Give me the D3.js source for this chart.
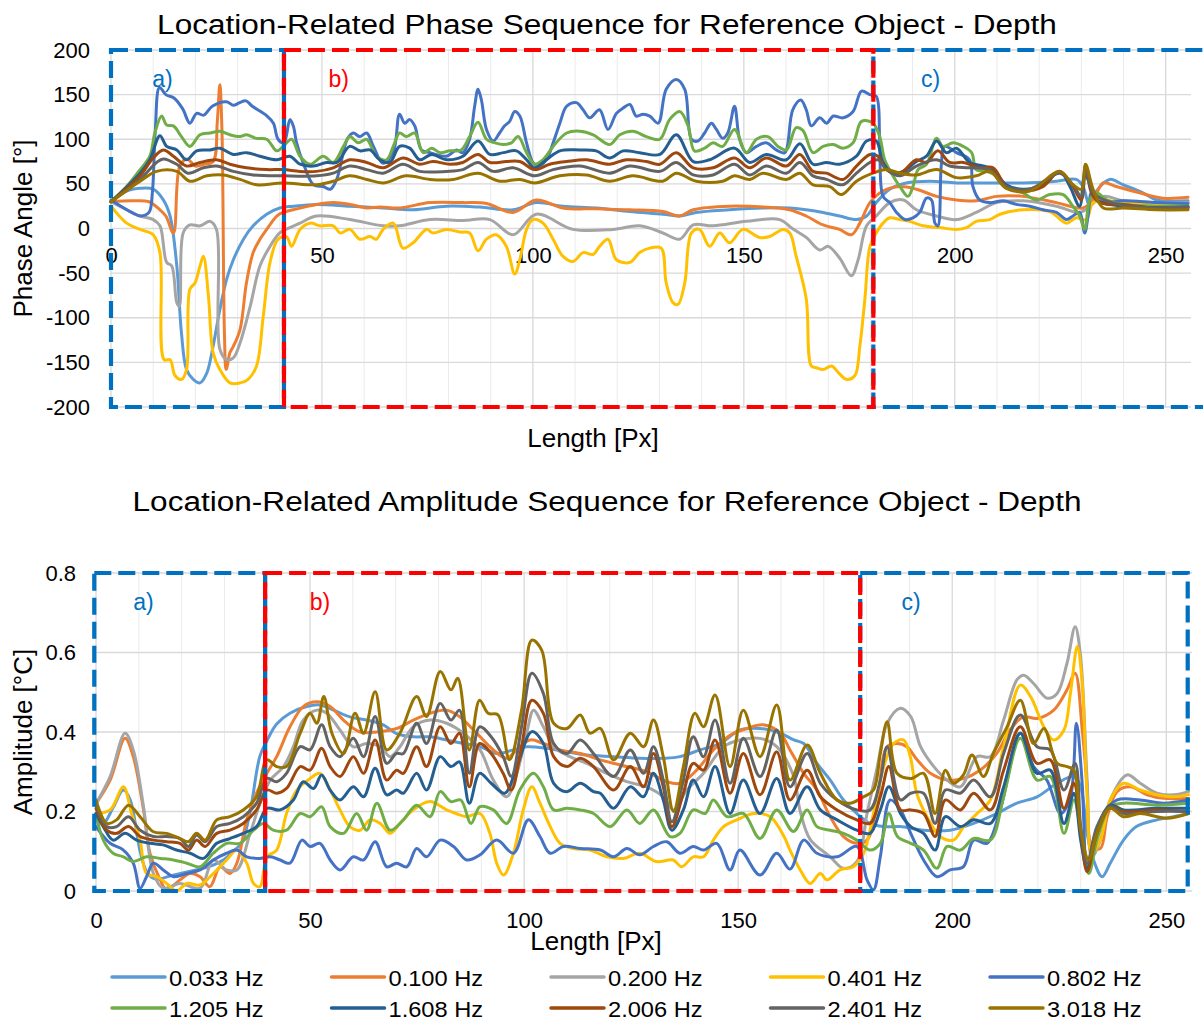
<!DOCTYPE html>
<html>
<head>
<meta charset="utf-8">
<script src="https://cdn.jsdelivr.net/npm/d3@7"></script>
<style>
  body { margin: 0; background: #fff; }
  svg { display: block; }
</style>
</head>
<body>
<svg id="chart" width="1203" height="1021"></svg>
<script>
// ---------- categories, ticks ----------
const frequencies = ["0.033 Hz", "0.100 Hz", "0.200 Hz", "0.401 Hz", "0.802 Hz",
                     "1.205 Hz", "1.608 Hz", "2.006 Hz", "2.401 Hz", "3.018 Hz"];
const seriesColors = ["#5B9BD5", "#ED7D31", "#A5A5A5", "#FFC000", "#4472C4",
                      "#70AD47", "#255E91", "#9E480E", "#636363", "#997300"];
const lengthTicks = [0, 50, 100, 150, 200, 250];
const lengthMinorTicks = d3.range(0, 251, 10);
const phaseTicks = [-200, -150, -100, -50, 0, 50, 100, 150, 200];
const ampTicks = [0, 0.2, 0.4, 0.6, 0.8];

// ---------- phase angle [°] per frequency, [length px, value] ----------
const ph033 = [[0,30],[3.7,42],[6.9,45],[10,44],[12.4,32],[14,14],[15.6,-42],[16.7,-117],[17.9,-158],[19.5,-169],[21.1,-173],[22.7,-162],[24.2,-132],[25.8,-91],[27.4,-57],[29,-35],[31.4,-12],[33.7,3],[36.9,16],[40,23],[43.2,25],[48.7,27],[56.6,25],[64.5,23],[71.6,21],[79.5,25],[87.4,24],[95.3,21],[100.8,29],[107.1,25],[115,23],[123,19],[130.8,16],[134.8,14],[138.7,18],[146.6,21],[154.5,23],[160.9,23],[164.8,21],[168.8,18],[172.7,14],[176.7,10],[179.1,14],[181.4,29],[184.6,44],[188.5,51],[194.1,53],[200.4,51],[208.3,51],[216.2,51],[224.1,53],[228.8,55],[230.4,47],[232,25],[233.6,42],[236.7,55],[239.9,49],[244.6,40],[247.8,32],[255.3,31]];
const ph100 = [[0,30],[5,31],[9,30],[11.6,21],[13,14],[14.8,-5],[16.3,70],[18,78],[20,70],[22,72],[24.2,75],[25.2,120],[25.8,161],[26.3,110],[26.9,-120],[27.3,-158],[28.2,-139],[29,-132],[30.6,-113],[32.1,-61],[33.7,-27],[35.3,-12],[36.9,-1],[39.3,14],[40.8,18],[43.2,21],[48.7,27],[52.7,29],[56.6,27],[60.6,23],[63.7,24],[68.4,23],[75.6,29],[83.4,29],[89,28],[95.3,18],[100.8,32],[107.1,23],[115,22],[123,21],[130.8,19],[134.8,14],[138,21],[146.6,25],[154.5,24],[160.8,21],[164.8,14],[168.8,4],[172.7,-1],[175.5,-7],[177.5,6],[179.9,29],[183,42],[187,47],[190.9,44],[195.7,36],[200.4,32],[205.1,31],[209.9,36],[216.2,36],[224.1,29],[230.4,23],[232.8,32],[235.2,51],[238.3,47],[243.8,40],[249.4,34],[255.3,35]];
const ph200 = [[0,30],[3.7,21],[6.9,14],[10,10],[11.6,3],[13.2,-38],[14.4,-42],[15.6,-83],[16.2,-87],[17.1,-5],[18.7,4],[21.1,3],[23.5,8],[25,-1],[25.8,-135],[27.4,-147],[29,-145],[30.6,-128],[33,-87],[35.3,-42],[37.7,-20],[40,-5],[42.4,1],[44.8,6],[48.7,14],[56.6,10],[64.5,3],[68.4,3],[75.6,10],[83.4,9],[89.8,10],[95.3,-7],[100.8,16],[109.5,-1],[119,-1],[125.3,3],[130.8,-5],[134.8,-12],[138,4],[142.7,3],[150.6,8],[158.5,10],[161.5,0],[164.8,-10],[168,-24],[170,-20],[172.7,-33],[175.5,-53],[177.1,-35],[179.1,3],[181.4,14],[184.6,29],[187.8,32],[190.9,21],[195.7,14],[200.4,10],[205.1,18],[209.9,29],[216.2,31],[224.1,25],[229.6,18],[232,25],[235.2,36],[239.9,31],[247.8,29],[255.3,29]];
const ph401 = [[0,25],[3.7,6],[6.9,-1],[10,-7],[11.6,-27],[12.6,-147],[14,-147],[15.2,-165],[16.7,-169],[17.9,-158],[18.7,-68],[19.9,-61],[21.1,-42],[21.9,-31],[23.1,-76],[24.2,-139],[25.8,-158],[28.2,-173],[30.6,-173],[32.5,-169],[34.5,-154],[36.1,-98],[37.7,-38],[39.6,-12],[41.6,-9],[42.8,-20],[44.8,-1],[47.2,6],[49.5,3],[52.7,3],[54.3,-5],[56.6,-1],[59,-12],[61.4,-9],[62.9,-12],[64.5,-1],[66.9,6],[69.2,-22],[71.6,-16],[74.8,-1],[76.3,-5],[79.5,-1],[82.7,-4],[85,-5],[87,-25],[89,-12],[91.3,-7],[93.7,-20],[95.7,-51],[96.9,-35],[98.5,-1],[100,10],[102.4,6],[104.8,-12],[107.1,-31],[109.5,-37],[111.9,-27],[114.3,-29],[115.8,-20],[117.8,-12],[119.8,-35],[123,-38],[125.3,-27],[127.7,-22],[130.4,-22],[131.6,-61],[133.2,-83],[134.4,-85],[136,-61],[137.6,-5],[139.5,-1],[141.9,-20],[144.3,-5],[146.6,-16],[149.8,-1],[153.7,-10],[156.1,-9],[159.3,-1],[160.9,-5],[162.4,-31],[164.8,-79],[166,-154],[167.2,-156],[168.8,-158],[170.8,-154],[172.7,-163],[174.3,-169],[176.3,-165],[177.5,-132],[178.7,-79],[179.9,-20],[181.4,-5],[183,6],[184.6,12],[187,10],[189.3,8],[192.5,3],[196.4,1],[200.4,-1],[202.8,1],[205.1,8],[208.3,10],[210.7,16],[216.2,21],[222.5,19],[226.5,6],[228.8,12],[231.2,10],[232.8,29],[236,31],[243.8,27],[255.3,28]];
const ph802 = [[0,32],[5.3,17],[7,14],[9,18],[9.8,40],[10.5,110],[11.5,158],[13,150],[15,146],[17,134],[18.7,118],[20.3,129],[22,127],[24,137],[27.4,142],[29,138],[30.5,141],[32,143],[33.5,137],[37,126],[38.5,118],[39.6,100],[41,96],[42.4,122],[43.2,115],[44,96],[45.6,73],[48,49],[50.3,47],[52,44],[53.5,55],[56,100],[57.4,107],[59,103],[60.6,107],[62.2,92],[64.5,73],[66.9,85],[68.4,128],[69.6,118],[70.8,122],[72,115],[73.6,88],[75.6,85],[79.5,81],[81.9,88],[83.4,85],[85,100],[86.2,137],[87,156],[87.8,144],[89,111],[90.6,98],[92.1,107],[93.3,115],[94.5,120],[95.7,131],[96.9,126],[98.5,96],[100,74],[101.2,70],[103.2,77],[104.8,96],[106.4,118],[108,137],[110.3,141],[111.9,133],[113.5,124],[115.8,133],[117.8,111],[119.8,129],[121.4,135],[123,139],[124.5,126],[126.1,128],[127.7,126],[129.7,118],[131.6,156],[134,167],[136,156],[137.6,100],[139.1,98],[140.7,107],[142.3,118],[143.5,111],[145,101],[146.2,107],[147.8,137],[149,100],[150.6,85],[153,92],[155.3,96],[157.7,88],[159.7,85],[161.6,133],[163.5,144],[164.8,133],[166,115],[168,124],[169.6,118],[171.2,126],[173.5,124],[175.9,131],[177.9,154],[179.9,150],[181.4,148],[182.2,100],[183,36],[184.6,29],[186.2,18],[188.2,10],[190.1,12],[191.7,18],[193.3,34],[194.5,32],[195.3,6],[196,3],[196.8,70],[197.6,92],[200.4,85],[203.5,77],[204.3,47],[205.9,32],[208.3,29],[211.5,31],[214.6,27],[217.8,25],[220.9,21],[224.1,18],[226.5,10],[228,14],[229.6,18],[230.8,-5],[231.6,14],[232.4,40],[233.6,32],[236,29],[239.9,31],[247.8,29],[255.3,28]];
const ph1205 = [[0,30],[3.7,47],[6.9,66],[9.2,81],[10.4,107],[12,126],[13.2,116],[14.8,115],[16.7,103],[18.7,92],[21.1,105],[23.5,107],[25.8,109],[28.2,105],[30.6,103],[32.1,105],[34.5,101],[36.9,100],[39.3,87],[40.8,92],[42.8,100],[44.8,81],[47.2,72],[50.3,81],[52.7,74],[55.1,92],[56.6,103],[58.6,96],[60.6,100],[62.9,81],[65.3,77],[66.9,92],[68.4,107],[70,103],[72,107],[74,85],[76,90],[78,85],[80.3,87],[83,88],[85,103],[87,119],[89,100],[91,96],[93,94],[94.9,96],[96.5,103],[98.5,85],[100.4,72],[102.4,77],[104.8,92],[108,107],[111.1,109],[114.3,105],[118.2,94],[120.6,105],[123.7,109],[126.9,103],[130.1,100],[132.4,122],[134.8,131],[136.8,115],[138.3,87],[140.7,90],[142.7,96],[145,92],[147.8,111],[150.6,85],[153,100],[155.7,103],[158.1,92],[160.1,88],[162.4,113],[164,110],[166.4,85],[168.8,92],[171.2,94],[173.5,90],[175.9,96],[177.9,120],[180.6,118],[182.2,103],[183.4,77],[185,62],[187,47],[188.9,36],[190.1,47],[191.3,66],[193.3,72],[195.7,101],[197.2,92],[199.6,96],[202,92],[204,85],[205.1,66],[207.5,64],[209.9,59],[212.2,47],[216.2,40],[219.3,32],[222.5,38],[225.7,38],[228,25],[229.6,14],[230.8,-1],[232,32],[233.6,40],[236,32],[239.9,27],[247.8,25],[255.3,25]];
const ph1608 = [[0,30],[6.9,62],[9.2,77],[11.6,104],[13.2,92],[15.6,88],[17.9,77],[20.3,87],[23.5,88],[25.8,90],[29,83],[32.1,85],[35.3,81],[39.3,77],[42.4,81],[44.8,72],[48,70],[51.1,74],[53.5,74],[56.6,92],[59,87],[61.4,88],[63.7,77],[66.1,74],[68.4,92],[70.8,90],[73.2,77],[76,83],[79.5,77],[83.4,81],[87,98],[89.8,83],[93,85],[96.1,87],[98.5,77],[100.4,68],[103.2,77],[106.4,87],[111.1,88],[115,87],[118.2,79],[121.4,87],[125.3,85],[130.1,83],[134,105],[138,75],[141.9,77],[147.8,90],[151.4,74],[155.3,83],[160.1,77],[163.3,95],[166.4,72],[169.6,74],[172.7,72],[176.7,81],[179.1,98],[181.4,98],[183,74],[185.4,62],[187.8,64],[190.9,75],[193.3,81],[195.7,98],[198,85],[200.4,90],[203.5,74],[206.7,70],[209.1,66],[212.2,49],[216.2,44],[220.9,49],[224.9,64],[227.3,47],[229.6,25],[230.8,59],[232,51],[233.6,32],[239.9,25],[255.3,24]];
const ph2006 = [[0,30],[6.9,59],[10,79],[12.4,88],[14.8,81],[17.9,70],[21.1,74],[25,77],[28.2,72],[32.1,68],[36.9,66],[40.8,66],[44.8,64],[48.7,64],[52.7,68],[56.6,77],[60.6,74],[64.5,68],[69.2,79],[73.2,72],[76.3,75],[80.3,72],[83.4,74],[87,83],[89.8,74],[93.7,75],[96.9,75],[100.4,66],[104,72],[108,75],[112.7,77],[118.2,72],[122.1,77],[126.9,75],[130.1,72],[134,85],[138,68],[142.7,68],[147.8,79],[151.4,68],[155.3,79],[160.1,70],[163.3,83],[166.4,64],[169.6,62],[173.5,55],[176.7,70],[179.9,83],[181.8,81],[183.8,66],[187,62],[190.9,77],[193.3,74],[196,87],[198.8,74],[202,74],[205.9,68],[209.1,68],[212.2,47],[216.2,42],[220.9,47],[224.9,64],[228,47],[230,32],[231,70],[232.4,40],[234.4,29],[239.9,27],[247.8,23],[255.3,23]];
const ph2401 = [[0,30],[6.9,55],[10.8,74],[12.4,78],[15.6,72],[18.3,62],[21.9,68],[25,70],[29,64],[33.7,60],[40.8,59],[48.7,59],[52.7,62],[56.6,70],[60.6,66],[64.5,62],[69.2,72],[73.2,64],[79.5,64],[83.4,66],[87,74],[90.6,64],[95.3,68],[100.4,59],[104.8,66],[111.1,70],[118.2,62],[123,70],[130.1,64],[134,74],[138,60],[142.7,60],[147.8,72],[151.4,60],[155.3,70],[160.1,62],[163.3,74],[166.4,59],[169.6,55],[173.5,49],[176.7,62],[179.9,74],[181.8,77],[183.8,66],[187,59],[190.9,70],[195.7,77],[198.8,70],[203.5,68],[208.3,66],[212.2,47],[217.8,44],[224.9,62],[228,49],[230,36],[231,70],[232.8,40],[239.9,26],[255.3,24]];
const ph3018 = [[0,30],[6.9,53],[10.8,64],[15.6,64],[18.7,53],[22.7,59],[26.6,60],[30.6,55],[34.5,49],[40.8,51],[48.7,49],[52.7,53],[56.6,59],[60.6,55],[64.5,51],[70,59],[75.6,55],[81.1,55],[87,62],[92.1,53],[96.9,55],[100.4,51],[106.4,59],[112.7,60],[118.2,53],[123.7,59],[130.8,53],[134,62],[138.7,53],[145,53],[147.8,59],[151.4,55],[154.5,62],[160.1,55],[163.3,62],[166.4,49],[170.4,47],[173.1,38],[176.7,53],[180.6,62],[183.8,66],[187,62],[190.9,60],[195.7,66],[200.4,57],[205.1,59],[208.3,64],[212.2,45],[217.8,42],[224.9,64],[228,49],[230,44],[231,72],[232.8,44],[235.2,23],[239.9,23],[247.8,21],[255.3,21]];

// ---------- amplitude [°C] per frequency, [length px, value] ----------
const am033 = [[0,0.187],[1.7,0.17],[4,0.21],[6.4,0.254],[8,0.229],[10.3,0.1],[12,0.045],[14,0.03],[18,0.04],[22,0.05],[26,0.06],[30,0.08],[32,0.1],[34,0.12],[36,0.2],[38.3,0.34],[40,0.38],[42.2,0.42],[45.3,0.447],[49.2,0.464],[52.3,0.468],[55.5,0.455],[59.3,0.438],[63.2,0.43],[67.1,0.418],[70.2,0.396],[74.1,0.388],[78,0.388],[81.9,0.38],[85.8,0.371],[89.8,0.363],[93.6,0.346],[97.5,0.355],[100.6,0.363],[105.3,0.359],[110,0.35],[114.6,0.342],[120.9,0.338],[127,0.334],[132.5,0.334],[136.4,0.338],[141.1,0.355],[145.8,0.371],[150.4,0.405],[155.1,0.409],[159.8,0.397],[163,0.38],[165.3,0.371],[168.4,0.321],[171.5,0.279],[174.6,0.229],[177.7,0.195],[180.8,0.17],[183.9,0.162],[187.8,0.162],[193.3,0.153],[199.5,0.153],[205,0.17],[210.4,0.195],[215.1,0.221],[219.8,0.237],[224.5,0.271],[228.4,0.288],[230,0.262],[231.5,0.145],[233,0.078],[235,0.036],[236.9,0.07],[240,0.128],[243,0.162],[247.8,0.179],[251.7,0.187],[255.2,0.195]];
const am100 = [[0,0.22],[3.3,0.279],[6.8,0.384],[8.7,0.338],[11.1,0.204],[12.6,0.095],[15,0.028],[16.5,0.003],[19.6,0.028],[22,0.044],[24.3,0.036],[26.6,0.011],[29,0.061],[31.3,0.044],[32.9,0.07],[35.2,0.179],[37.5,0.246],[39.9,0.296],[42.2,0.338],[45.3,0.413],[48.4,0.464],[51.6,0.476],[54.7,0.464],[57.8,0.43],[61.7,0.4],[65.6,0.4],[70.3,0.409],[74.1,0.43],[78,0.447],[81.9,0.455],[85,0.438],[88.9,0.397],[92.8,0.355],[95.9,0.334],[98.3,0.355],[101.4,0.38],[104.5,0.371],[108.4,0.355],[113.1,0.346],[117.8,0.33],[122.4,0.317],[128.6,0.3],[133.3,0.275],[136.4,0.271],[140.3,0.304],[144.2,0.355],[148.1,0.392],[152,0.409],[155.9,0.418],[159.8,0.397],[162.1,0.355],[165.3,0.296],[168.4,0.254],[171.5,0.187],[174.6,0.137],[177.7,0.12],[180.1,0.128],[182.5,0.229],[184.8,0.363],[187.1,0.371],[189.4,0.363],[191.8,0.33],[194.9,0.296],[198.8,0.279],[202.6,0.283],[206.5,0.304],[210.4,0.346],[213.5,0.405],[216.6,0.438],[219.8,0.434],[223.7,0.455],[226.8,0.506],[228.7,0.548],[230.3,0.413],[231.5,0.262],[232.6,0.112],[234.6,0.107],[236.2,0.187],[238.5,0.25],[241.6,0.262],[245.5,0.242],[249.4,0.233],[255.2,0.233]];
const am200 = [[0,0.22],[3.3,0.288],[6.8,0.397],[8.7,0.355],[11.1,0.212],[13.4,0.044],[15.7,0.007],[19.6,0.019],[24.3,0.007],[27.4,0.078],[30.5,0.053],[32.9,0.053],[36,0.145],[38.3,0.22],[40.7,0.279],[43.8,0.313],[46.1,0.363],[48.4,0.43],[51.6,0.455],[53.9,0.447],[57,0.405],[60.1,0.363],[63.2,0.371],[66.4,0.363],[68.7,0.338],[71,0.363],[74.1,0.413],[78,0.43],[81.9,0.422],[85.8,0.397],[89.7,0.355],[92.8,0.279],[95.9,0.237],[98.3,0.296],[100.6,0.397],[102.2,0.455],[104.5,0.413],[106.9,0.363],[110.7,0.338],[114.6,0.321],[119.3,0.296],[124,0.275],[128.6,0.262],[132.5,0.237],[134.9,0.204],[138,0.254],[141.9,0.296],[146.6,0.363],[150.4,0.38],[155.1,0.384],[159,0.363],[162.9,0.29],[164.5,0.2],[166.8,0.13],[171.5,0.086],[174.6,0.057],[177.7,0.074],[180.1,0.195],[182.5,0.313],[184.8,0.422],[187.9,0.46],[190.3,0.439],[192.6,0.363],[195.7,0.313],[198.8,0.279],[201.9,0.262],[205.8,0.338],[208.9,0.338],[212,0.43],[215.1,0.531],[216.7,0.543],[219,0.522],[222.2,0.485],[224.5,0.497],[226.8,0.573],[228.7,0.665],[229.9,0.598],[231.5,0.279],[232.6,0.086],[234.6,0.128],[236.9,0.229],[240.8,0.292],[243.9,0.271],[247.8,0.246],[251.7,0.242],[255.2,0.25]];
const am401 = [[0,0.195],[3.3,0.204],[6.4,0.262],[8.3,0.195],[10.3,0.128],[11.8,0.044],[14.2,0.036],[16.5,0.019],[18.8,0],[21.2,0.019],[24.3,0.015],[27.4,0.044],[30.5,0.078],[32.9,0.103],[35.2,0.07],[36.8,0.019],[38.3,0.011],[39.9,0.086],[42.2,0.103],[44.5,0.195],[46.9,0.254],[50,0.283],[52.3,0.296],[54.7,0.254],[57,0.204],[59.3,0.162],[61.7,0.153],[64,0.179],[66.4,0.17],[68.7,0.145],[71,0.17],[74.1,0.204],[78,0.225],[81.9,0.204],[84.1,0.195],[86.6,0.187],[89.7,0.195],[92,0.145],[93.6,0.07],[95.2,0.04],[97.5,0.095],[99.8,0.204],[101.8,0.262],[103.7,0.221],[106.1,0.162],[108.4,0.12],[111.5,0.107],[115.4,0.103],[119.3,0.086],[123.2,0.082],[127,0.095],[130.9,0.074],[134.8,0.078],[136.8,0.061],[139.5,0.086],[141.9,0.086],[144.2,0.128],[146.6,0.162],[149.7,0.179],[153.6,0.195],[157.5,0.187],[160.7,0.137],[162.1,0.103],[164.5,0.053],[166.8,0.019],[169.2,0.044],[170.7,0.028],[173.8,0.053],[176.9,0.061],[179.3,0.095],[181.6,0.195],[184,0.313],[186.3,0.371],[188.6,0.38],[190.2,0.338],[191.7,0.246],[194.1,0.187],[197.2,0.137],[200.3,0.128],[202.7,0.162],[205.8,0.195],[208.9,0.229],[212,0.363],[215.9,0.518],[218.3,0.489],[221.4,0.413],[223.7,0.38],[226.1,0.405],[227.6,0.497],[229.2,0.615],[230.3,0.531],[231.5,0.237],[232.6,0.095],[234.6,0.128],[236.9,0.229],[240,0.271],[243.9,0.254],[247.8,0.242],[251.7,0.237],[255.2,0.242]];
const am802 = [[0,0.162],[3.3,0.12],[6.4,0.103],[8.7,0.07],[10.3,0.007],[11.8,0.036],[13.4,0.07],[15.7,0.053],[18.1,0.036],[21.2,0.044],[24.3,0.053],[27.4,0.078],[30.5,0.095],[32.9,0.103],[35.2,0.086],[38.3,0.082],[40.7,0.086],[43,0.078],[45.3,0.07],[48.1,0.128],[50,0.112],[52.3,0.12],[54.7,0.078],[57,0.053],[60.1,0.086],[62.5,0.078],[65.2,0.124],[67.9,0.061],[70.2,0.07],[72.6,0.061],[74.9,0.107],[77.2,0.086],[80.4,0.128],[83.5,0.112],[86.6,0.078],[89.7,0.091],[93.6,0.128],[97.5,0.095],[101,0.179],[103.7,0.137],[106.1,0.095],[109.2,0.112],[113.1,0.107],[117.8,0.103],[120.9,0.086],[124,0.107],[127,0.091],[130.2,0.112],[133.3,0.124],[136.4,0.095],[139.5,0.112],[141.9,0.103],[145,0.12],[148.1,0.053],[150.4,0.103],[155.1,0.04],[159,0.095],[162.1,0.055],[165.3,0.128],[168.4,0.095],[173.1,0.086],[177.7,0.112],[180.1,0.028],[181.6,0.003],[183.2,0.086],[185.5,0.229],[187.9,0.204],[190.3,0.145],[193.3,0.078],[196.4,0.036],[199.5,0.053],[202.6,0.061],[205,0.128],[208.1,0.12],[211.2,0.204],[215.9,0.397],[219,0.313],[222.1,0.279],[225.3,0.195],[227.6,0.237],[229,0.422],[230.3,0.279],[231.5,0.053],[233,0.128],[235.4,0.195],[238.5,0.229],[243.9,0.229],[249.4,0.221],[255.2,0.229]];
const am1205 = [[0,0.195],[1.7,0.128],[4,0.095],[6.4,0.086],[8.7,0.074],[11.8,0.086],[15,0.082],[18.1,0.078],[21.2,0.07],[24.3,0.061],[27.4,0.095],[30.5,0.12],[33.6,0.12],[36.8,0.153],[39.1,0.17],[41.4,0.153],[44.5,0.153],[47.7,0.195],[50,0.187],[52.7,0.212],[54.7,0.162],[57.8,0.145],[60.9,0.195],[63.2,0.153],[65.6,0.221],[68.7,0.153],[71.8,0.179],[74.9,0.216],[78,0.187],[80.4,0.25],[82.9,0.225],[85.2,0.229],[87.6,0.17],[89.7,0.212],[92.8,0.204],[95.9,0.17],[99,0.254],[102.2,0.296],[104.5,0.262],[106.9,0.204],[110,0.208],[113.1,0.204],[116.2,0.195],[120.1,0.162],[124,0.204],[127,0.17],[130.2,0.204],[134.1,0.137],[136.4,0.145],[139.5,0.204],[142.3,0.195],[144.2,0.229],[147.4,0.187],[151.2,0.195],[155.1,0.132],[159,0.204],[162.9,0.15],[166.1,0.204],[168.4,0.162],[171.5,0.153],[174.6,0.145],[177.7,0.128],[180.8,0.103],[183.2,0.12],[185.2,0.195],[187.2,0.137],[190.3,0.12],[193.3,0.103],[196.4,0.057],[198.8,0.112],[201.9,0.103],[205,0.132],[208.9,0.128],[212,0.237],[215.9,0.384],[219.8,0.279],[222.9,0.288],[226.1,0.145],[228.4,0.229],[230,0.153],[231.9,0.044],[233.8,0.128],[236.9,0.212],[240,0.221],[247.8,0.216],[255.2,0.221]];
const am1608 = [[0,0.195],[1.7,0.162],[4,0.128],[6.8,0.145],[9.5,0.128],[12.6,0.12],[15.7,0.116],[18.8,0.103],[22,0.095],[25.1,0.082],[28.2,0.12],[31.3,0.132],[34.4,0.145],[37.5,0.162],[39.9,0.208],[43,0.204],[46.1,0.229],[48.4,0.275],[50.8,0.258],[52.7,0.292],[54.7,0.254],[57,0.229],[60.1,0.262],[62.5,0.237],[65.2,0.309],[67.9,0.242],[70.2,0.254],[71.8,0.246],[74.9,0.296],[77.2,0.254],[80.4,0.338],[82.9,0.313],[84.9,0.325],[87.2,0.221],[89.6,0.296],[92.3,0.271],[95.5,0.246],[98.3,0.313],[101.8,0.401],[104.5,0.371],[106.9,0.271],[110,0.25],[113.1,0.271],[116.2,0.25],[117.8,0.246],[120.9,0.208],[124.8,0.262],[127.9,0.237],[130.2,0.296],[132.5,0.229],[134.5,0.153],[137.2,0.204],[139.5,0.279],[141.9,0.237],[144.6,0.313],[148.1,0.195],[151.2,0.279],[155.1,0.195],[159,0.283],[162.1,0.195],[166.1,0.262],[169.2,0.204],[173.1,0.179],[177.7,0.153],[180.8,0.145],[183.2,0.204],[185.2,0.262],[187.9,0.195],[190.3,0.162],[193.3,0.145],[196,0.103],[198.4,0.187],[201.9,0.162],[205,0.179],[208.9,0.17],[212,0.262],[215.9,0.397],[219.8,0.296],[222.9,0.304],[226.1,0.17],[228.4,0.246],[230,0.128],[231.5,0.057],[233.8,0.153],[236.9,0.216],[240,0.204],[247.8,0.208],[255.2,0.208]];
const am2006 = [[0,0.208],[2.5,0.153],[4.8,0.145],[7.6,0.162],[10.3,0.137],[13.4,0.128],[16.5,0.124],[19.6,0.12],[21.6,0.103],[23.5,0.128],[25.5,0.112],[28.2,0.145],[31.3,0.153],[34.4,0.17],[37.5,0.204],[39.9,0.254],[42.2,0.246],[44.5,0.258],[47.7,0.313],[50,0.304],[52.7,0.359],[54.7,0.313],[57,0.288],[60.1,0.338],[62.5,0.296],[65.2,0.38],[67.9,0.279],[70.2,0.304],[71.8,0.296],[74.9,0.363],[77.2,0.313],[80.4,0.413],[82.9,0.371],[84.9,0.397],[87.2,0.262],[89.6,0.371],[92.3,0.346],[95.1,0.296],[97,0.254],[99.4,0.363],[101.8,0.48],[104.5,0.447],[106.9,0.338],[110,0.313],[113.1,0.334],[116.2,0.313],[120.9,0.254],[124.8,0.313],[127.9,0.262],[130.2,0.346],[132.5,0.262],[134.5,0.162],[137.2,0.246],[139.5,0.321],[141.9,0.304],[144.6,0.38],[148.1,0.246],[151.2,0.346],[155.1,0.242],[159,0.35],[162.1,0.229],[166.1,0.304],[169.2,0.237],[173.1,0.204],[177.7,0.179],[180.8,0.17],[183.2,0.237],[185.2,0.313],[187.9,0.204],[190.3,0.204],[193.3,0.195],[196,0.137],[198.4,0.229],[201.9,0.204],[205,0.246],[208.9,0.204],[212,0.304],[215.9,0.413],[219.8,0.321],[222.9,0.33],[226.1,0.208],[228.4,0.271],[230,0.153],[231.5,0.049],[233.8,0.145],[236.9,0.212],[240,0.2],[247.8,0.204],[255.2,0.2]];
const am2401 = [[0,0.216],[2.5,0.162],[4.8,0.162],[7.6,0.187],[10.3,0.153],[13.4,0.137],[16.5,0.137],[19.6,0.132],[21.6,0.112],[23.5,0.141],[25.5,0.124],[28.2,0.162],[31.3,0.17],[34.4,0.187],[37.5,0.221],[39.9,0.283],[42.2,0.275],[44.5,0.296],[47.7,0.363],[50,0.355],[52.7,0.418],[54.7,0.363],[57,0.338],[60.1,0.384],[62.5,0.338],[65.2,0.439],[67.9,0.321],[70.2,0.346],[71.8,0.346],[74.9,0.422],[77.2,0.371],[80.4,0.472],[82.9,0.43],[84.9,0.455],[87.2,0.296],[89.6,0.413],[92.3,0.388],[95.1,0.338],[97,0.288],[99.4,0.413],[101.8,0.548],[104.5,0.497],[106.9,0.371],[110,0.346],[113.1,0.38],[116.2,0.346],[120.9,0.288],[124.8,0.355],[127.9,0.296],[130.2,0.363],[132.5,0.279],[134.5,0.174],[137.2,0.279],[139.5,0.388],[141.9,0.338],[144.6,0.43],[148.1,0.271],[151.2,0.384],[155.1,0.288],[159,0.405],[162.1,0.262],[166.1,0.346],[169.2,0.271],[173.1,0.229],[177.7,0.204],[180.8,0.204],[183.2,0.279],[184.8,0.363],[187.9,0.229],[190.3,0.246],[193.3,0.246],[196,0.17],[198.4,0.254],[201.9,0.246],[205,0.279],[208.9,0.237],[212,0.346],[215.9,0.443],[219.8,0.363],[222.9,0.355],[226.1,0.254],[228.7,0.321],[230,0.162],[231.5,0.07],[233.8,0.162],[236.9,0.212],[240,0.195],[247.8,0.2],[255.2,0.2]];
const am3018 = [[0,0.229],[2.5,0.17],[4.8,0.179],[7.6,0.216],[10.3,0.187],[13.4,0.149],[16.5,0.145],[19.6,0.132],[21.6,0.124],[23.5,0.145],[25.5,0.128],[28.2,0.179],[31.3,0.187],[34.4,0.204],[37.5,0.237],[39.9,0.33],[42.2,0.313],[44.5,0.313],[47.7,0.397],[50,0.447],[51.6,0.422],[53.2,0.489],[55.1,0.397],[57.8,0.346],[60.5,0.447],[62.5,0.397],[65.2,0.501],[67.9,0.355],[71,0.397],[74.9,0.489],[77.2,0.439],[80.4,0.552],[82.9,0.506],[84.5,0.535],[87.2,0.355],[89.6,0.48],[91.6,0.447],[93.9,0.443],[96.6,0.33],[99.4,0.455],[101.8,0.631],[104.1,0.606],[106.9,0.422],[110,0.409],[113.1,0.443],[115.4,0.397],[117.8,0.409],[120.9,0.33],[124.8,0.397],[127.9,0.363],[130.2,0.43],[132.5,0.338],[134.9,0.2],[137.2,0.313],[139.9,0.447],[141.9,0.413],[144.6,0.493],[148.1,0.313],[151.2,0.455],[155.1,0.338],[159,0.468],[162.1,0.279],[166.1,0.367],[169.2,0.296],[173.1,0.229],[176.2,0.221],[179.3,0.237],[181.6,0.254],[183.2,0.346],[184.8,0.426],[187.1,0.296],[190.3,0.283],[193.3,0.296],[196,0.195],[198.4,0.304],[200.3,0.271],[202.6,0.292],[204.6,0.342],[207.3,0.288],[209.6,0.346],[212.8,0.413],[215.9,0.48],[219,0.371],[221.4,0.409],[224.5,0.321],[226.8,0.313],[228.4,0.304],[230,0.153],[231.9,0.078],[233.8,0.145],[236.9,0.208],[240,0.187],[243.9,0.195],[250.1,0.183],[255.2,0.195]];

const phaseSeries = [ph033, ph100, ph200, ph401, ph802, ph1205, ph1608, ph2006, ph2401, ph3018];
const ampSeries = [am033, am100, am200, am401, am802, am1205, am1608, am2006, am2401, am3018];

// Marked sections along the length axis (dashed frames with a tag)
const phaseRegions = [
  { tag: "a)", from: 0, to: 41, kind: "edge", tagAt: 12.2 },
  { tag: "c)", from: 180.7, to: 261, kind: "edge", tagAt: 194.3 },
  { tag: "b)", from: 41, to: 180.7, kind: "core", tagAt: 54 }
];
const ampRegions = [
  { tag: "a)", from: -0.4, to: 39.5, kind: "edge", tagAt: 11.1 },
  { tag: "c)", from: 178.5, to: 255, kind: "edge", tagAt: 190.4 },
  { tag: "b)", from: 39.5, to: 178.5, kind: "core", tagAt: 52.3 }
];
const regionColors = { edge: "#0070C0", core: "#FF0000" };

const FONT = "'Liberation Sans', Arial, Helvetica, sans-serif";
const svg = d3.select("#chart");
const lengthMax = 256;

function drawPanel(cfg) {
  const g = svg.append("g");
  const x = d3.scaleLinear().domain([0, lengthMax]).range([cfg.left, cfg.right]);
  const y = d3.scaleLinear().domain(cfg.yDomain).range([cfg.bottom, cfg.top]);

  // title (slightly widened lettering)
  g.append("text")
    .attr("transform", `translate(${cfg.titleX},${cfg.titleY}) scale(1.127,1)`)
    .attr("text-anchor", "middle")
    .attr("font-family", FONT).attr("font-size", 28).attr("fill", "#000")
    .text(cfg.title);

  // gridlines
  const grid = g.append("g");
  grid.selectAll("line.minor").data(lengthMinorTicks.filter(t => !lengthTicks.includes(t)))
    .join("line").attr("class", "minor")
    .attr("x1", d => x(d)).attr("x2", d => x(d))
    .attr("y1", y(cfg.yDomain[1])).attr("y2", y(cfg.yDomain[0]))
    .attr("stroke", "#EBEBEB").attr("stroke-width", 1);
  grid.selectAll("line.major").data(lengthTicks)
    .join("line").attr("class", "major")
    .attr("x1", d => x(d)).attr("x2", d => x(d))
    .attr("y1", y(cfg.yDomain[1])).attr("y2", y(cfg.yDomain[0]))
    .attr("stroke", "#D9D9D9").attr("stroke-width", 1.3);
  grid.selectAll("line.h").data(cfg.yTicks)
    .join("line").attr("class", "h")
    .attr("x1", x(0)).attr("x2", x(lengthMax))
    .attr("y1", d => y(d)).attr("y2", d => y(d))
    .attr("stroke", "#D9D9D9").attr("stroke-width", 1.3);

  // axes (labels only)
  const xAxis = d3.axisBottom(x).tickValues(lengthTicks).tickSize(0)
    .tickPadding(cfg.xPad).tickFormat(d => String(d));
  g.append("g").attr("transform", `translate(0,${y(cfg.xAxisAt)})`).call(xAxis)
    .attr("font-family", FONT).attr("font-size", 22)
    .call(s => s.select(".domain").remove())
    .call(s => s.selectAll("text").attr("fill", "#000"));
  const yAxis = d3.axisLeft(y).tickValues(cfg.yTicks).tickSize(0)
    .tickPadding(cfg.yPad).tickFormat(cfg.yFormat);
  g.append("g").attr("transform", `translate(${x(0)},0)`).call(yAxis)
    .attr("font-family", FONT).attr("font-size", 22)
    .call(s => s.select(".domain").remove())
    .call(s => s.selectAll("text").attr("fill", "#000"));

  // axis titles
  g.append("text")
    .attr("x", cfg.xTitleX).attr("y", cfg.xTitleY)
    .attr("text-anchor", "middle")
    .attr("font-family", FONT).attr("font-size", 26).attr("fill", "#000")
    .text("Length [Px]");
  g.append("text")
    .attr("transform", `translate(${cfg.yTitleX},${(y(cfg.yDomain[0]) + y(cfg.yDomain[1])) / 2}) rotate(-90)`)
    .attr("text-anchor", "middle")
    .attr("font-family", FONT).attr("font-size", 26).attr("fill", "#000")
    .text(cfg.yTitle);

  // series
  const clipId = cfg.id + "-clip";
  g.append("clipPath").attr("id", clipId).append("rect")
    .attr("x", x(0) - 2).attr("y", y(cfg.yDomain[1]) - 4)
    .attr("width", x(lengthMax) - x(0) + 4).attr("height", y(cfg.yDomain[0]) - y(cfg.yDomain[1]) + 6);
  const line = d3.line()
    .x(d => x(d[0])).y(d => y(d[1]))
    .curve(d3.curveCatmullRom.alpha(0.5));
  g.append("g").attr("clip-path", `url(#${clipId})`)
    .selectAll("path").data(cfg.series).join("path")
    .attr("d", line)
    .attr("fill", "none")
    .attr("stroke", (d, i) => seriesColors[i])
    .attr("stroke-width", 3)
    .attr("stroke-linejoin", "round")
    .attr("stroke-linecap", "round");

  // dashed section frames and tags
  const frames = g.append("g");
  frames.selectAll("rect").data(cfg.regions).join("rect")
    .attr("x", d => x(d.from)).attr("y", y(cfg.yDomain[1]))
    .attr("width", d => x(d.to) - x(d.from))
    .attr("height", y(cfg.yDomain[0]) - y(cfg.yDomain[1]))
    .attr("fill", "none")
    .attr("stroke", d => regionColors[d.kind])
    .attr("stroke-width", 4.2)
    .attr("stroke-dasharray", "17 7");
  frames.selectAll("text").data(cfg.regions).join("text")
    .attr("x", d => x(d.tagAt)).attr("y", y(cfg.tagY))
    .attr("text-anchor", "middle")
    .attr("font-family", FONT).attr("font-size", 23)
    .attr("fill", d => regionColors[d.kind])
    .text(d => d.tag);
}

drawPanel({
  id: "phase",
  title: "Location-Related Phase Sequence for Reference Object - Depth",
  titleX: 607, titleY: 34,
  left: 111, right: 1191, top: 50, bottom: 407,
  yDomain: [-200, 200], yTicks: phaseTicks, yFormat: d => String(d),
  xAxisAt: 0, xPad: 19, yPad: 21,
  xTitleX: 593, xTitleY: 447,
  yTitle: "Phase Angle [°]", yTitleX: 32,
  series: phaseSeries, regions: phaseRegions, tagY: 158
});

drawPanel({
  id: "amp",
  title: "Location-Related Amplitude Sequence for Reference Object - Depth",
  titleX: 607, titleY: 511,
  left: 96, right: 1192, top: 573, bottom: 891,
  yDomain: [0, 0.8], yTicks: ampTicks, yFormat: d => String(+d.toFixed(1)),
  xAxisAt: 0, xPad: 21, yPad: 20,
  xTitleX: 596, xTitleY: 950,
  yTitle: "Amplitude [°C]", yTitleX: 32,
  series: ampSeries, regions: ampRegions, tagY: 0.707
});

// legend: two rows of five entries
const legend = svg.append("g").attr("font-family", FONT).attr("font-size", 21.5);
const legendItems = legend.selectAll("g").data(frequencies).join("g")
  .attr("transform", (d, i) => `translate(${112 + (i % 5) * 219.5},${977 + Math.floor(i / 5) * 31})`);
legendItems.append("line")
  .attr("x1", 0).attr("x2", 53).attr("y1", 0).attr("y2", 0)
  .attr("stroke", (d, i) => seriesColors[i]).attr("stroke-width", 3.5)
  .attr("stroke-linecap", "round");
legendItems.append("text")
  .attr("transform", "translate(57,9) scale(1.1,1)")
  .attr("fill", "#000")
  .text(d => d);
</script>
</body>
</html>
